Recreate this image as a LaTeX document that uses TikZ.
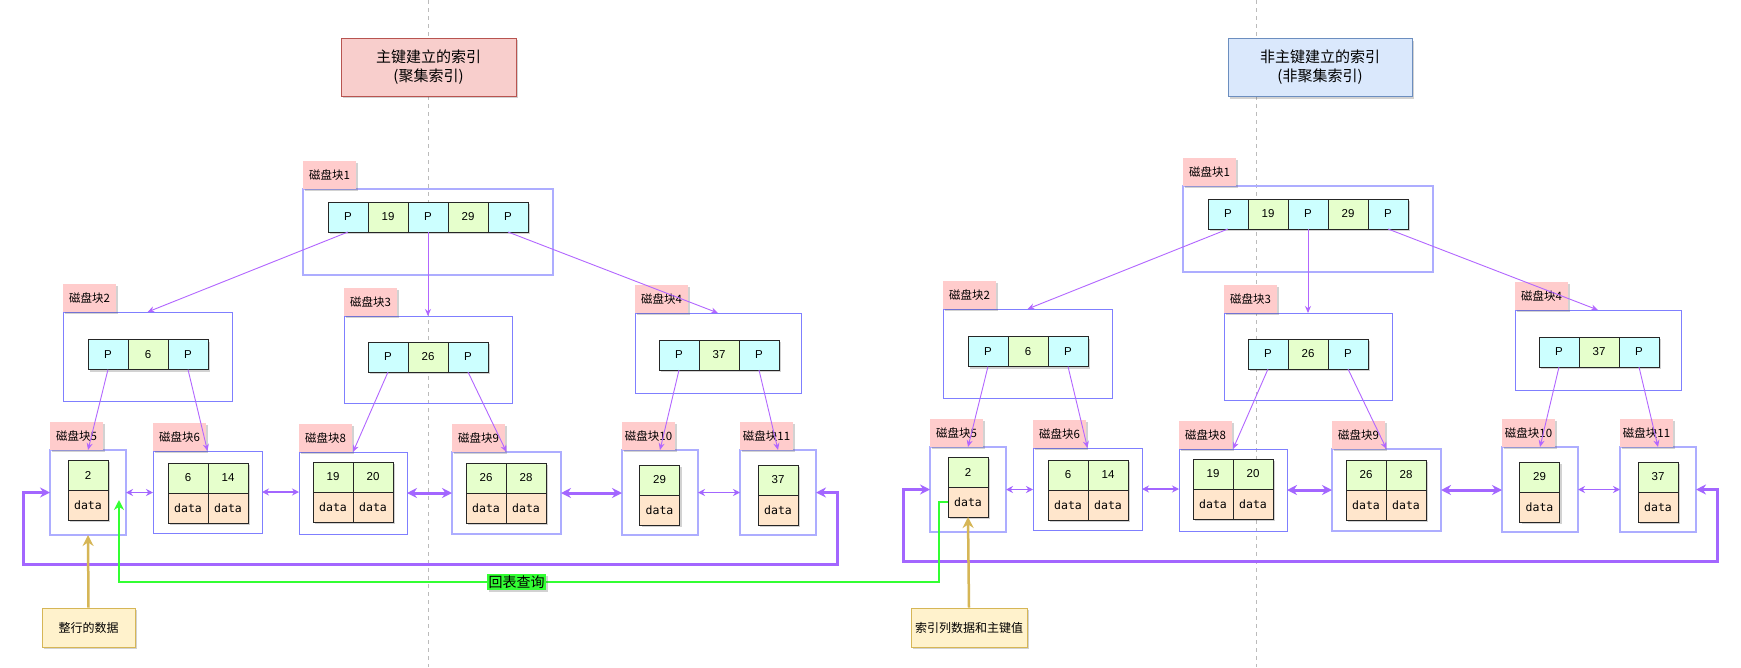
\documentclass[tikz,border=0pt]{standalone}
\usepackage{fontspec}
\setmainfont{Liberation Sans}
\newfontfamily\cjk{Noto Sans CJK SC}
\newfontfamily\monof{DejaVu Sans Mono}
\usetikzlibrary{arrows.meta,shadows,calc}
\definecolor{pcol}{HTML}{CCFFFF}
\definecolor{ncol}{HTML}{E6FFCC}
\definecolor{dcol}{HTML}{FFE6CC}
\definecolor{lblcol}{HTML}{FFCCCC}
\definecolor{contA}{HTML}{7F7FFF}
\definecolor{contB}{HTML}{ADADFF}
\definecolor{edgecol}{HTML}{B266FF}
\definecolor{loopcol}{HTML}{A366FF}
\definecolor{grn}{HTML}{33FF33}
\definecolor{gold}{HTML}{D6B656}
\definecolor{goldfill}{HTML}{FFF2CC}
\definecolor{redfill}{HTML}{F8CECC}
\definecolor{reddraw}{HTML}{B85450}
\definecolor{bluefill}{HTML}{DAE8FC}
\definecolor{bluedraw}{HTML}{6C8EBF}
\definecolor{dashcol}{HTML}{BBBBBB}
\tikzset{
  shd/.style={drop shadow={shadow xshift=2pt,shadow yshift=-2pt,opacity=0.25,fill=black!70}},
  cellbase/.style={draw=black!85,line width=1pt,minimum width=40pt,minimum height=30pt,inner sep=0pt,outer sep=0pt,font=\fontsize{11.5}{13}\selectfont,shd},
  pcell/.style={cellbase,fill=pcol},
  ncell/.style={cellbase,fill=ncol},
  dcell/.style={cellbase,fill=dcol,font=\monof\fontsize{11.5}{13}\selectfont},
  lbl/.style={fill=lblcol,minimum width=53pt,minimum height=28pt,inner sep=2pt,outer sep=0pt,font=\cjk\fontsize{11.5}{13}\selectfont,shd,anchor=south west},
  contA/.style={draw=contA,line width=0.9pt,inner sep=0pt,outer sep=0pt},
  contB/.style={draw=contB,line width=1.3pt,inner sep=0pt,outer sep=0pt},
  edge/.style={draw=edgecol,line width=0.9pt,-{Stealth[length=7pt,width=6pt]}},
  thinlink/.style={draw=loopcol,line width=1.5pt,{Stealth[length=7pt,width=7pt]}-{Stealth[length=7pt,width=7pt]}},
  thicklink/.style={draw=loopcol,line width=3pt,{Stealth[length=10pt,width=10pt]}-{Stealth[length=10pt,width=10pt]}},
  loopline/.style={draw=loopcol,line width=3pt,{Stealth[length=10pt,width=10pt]}-{Stealth[length=10pt,width=10pt]}},
  title/.style={minimum width=175pt,minimum height=58pt,align=center,font=\cjk\fontsize{15}{19}\selectfont,line width=1pt,shd},
  note/.style={fill=goldfill,draw=gold,line width=1pt,minimum height=39pt,font=\cjk\fontsize{12}{14}\selectfont,shd},
  dashline/.style={draw=dashcol,line width=0.8pt,dash pattern=on 4pt off 4pt},
}
\newcommand{\btree}[1]{%
  % containers
  \node[contB,minimum width=250pt,minimum height=86pt] (#1b1) at (428,232) {};
  \node[contA,minimum width=169pt,minimum height=89pt] (#1b2) at (147.5,356.5) {};
  \node[contA,minimum width=168pt,minimum height=87pt] (#1b3) at (428,359.5) {};
  \node[contA,minimum width=166pt,minimum height=80pt] (#1b4) at (718,353) {};
  \node[contB,minimum width=76pt,minimum height=85pt] (#1c5) at (88,492.5) {};
  \node[contA,minimum width=109pt,minimum height=82pt] (#1c6) at (207.5,492) {};
  \node[contA,minimum width=108pt,minimum height=82pt] (#1c8) at (353,493) {};
  \node[contB,minimum width=109pt,minimum height=82pt] (#1c9) at (506.5,493) {};
  \node[contB,minimum width=76pt,minimum height=85pt] (#1c10) at (660,492.5) {};
  \node[contB,minimum width=76pt,minimum height=85pt] (#1c11) at (778,492.5) {};
  % labels
  \node[lbl] (#1l1) at (#1b1.north west) {磁盘块1};
  \node[lbl] (#1l2) at (#1b2.north west) {磁盘块2};
  \node[lbl] (#1l3) at (#1b3.north west) {磁盘块3};
  \node[lbl] (#1l4) at (#1b4.north west) {磁盘块4};
  \node[lbl] (#1l5) at (#1c5.north west) {磁盘块5};
  \node[lbl] (#1l6) at (#1c6.north west) {磁盘块6};
  \node[lbl] (#1l8) at (#1c8.north west) {磁盘块8};
  \node[lbl] (#1l9) at (#1c9.north west) {磁盘块9};
  \node[lbl] (#1l10) at (#1c10.north west) {磁盘块10};
  \node[lbl] (#1l11) at (#1c11.north west) {磁盘块11};
  % block 1 cells
  \node[pcell] (#1k1) at (348,217) {P};
  \node[ncell] (#1k2) at (388,217) {19};
  \node[pcell] (#1k3) at (428,217) {P};
  \node[ncell] (#1k4) at (468,217) {29};
  \node[pcell] (#1k5) at (508,217) {P};
  % block 2,3,4 cells
  \node[pcell] (#1b2p1) at (108,354.5) {P};
  \node[ncell] (#1b2k) at (148,354.5) {6};
  \node[pcell] (#1b2p2) at (188,354.5) {P};
  \node[pcell] (#1b3p1) at (388,357) {P};
  \node[ncell] (#1b3k) at (428,357) {26};
  \node[pcell] (#1b3p2) at (468,357) {P};
  \node[pcell] (#1b4p1) at (679,355) {P};
  \node[ncell] (#1b4k) at (719,355) {37};
  \node[pcell] (#1b4p2) at (759,355) {P};
  % leaves
  \node[ncell] (#1c5n) at (88,475) {2};
  \node[dcell] (#1c5d) at (88,505) {data};
  \node[ncell] (#1c6n1) at (188,478) {6};
  \node[ncell] (#1c6n2) at (228,478) {14};
  \node[dcell] (#1c6d1) at (188,508) {data};
  \node[dcell] (#1c6d2) at (228,508) {data};
  \node[ncell] (#1c8n1) at (333,477) {19};
  \node[ncell] (#1c8n2) at (373,477) {20};
  \node[dcell] (#1c8d1) at (333,507) {data};
  \node[dcell] (#1c8d2) at (373,507) {data};
  \node[ncell] (#1c9n1) at (486,478) {26};
  \node[ncell] (#1c9n2) at (526,478) {28};
  \node[dcell] (#1c9d1) at (486,508) {data};
  \node[dcell] (#1c9d2) at (526,508) {data};
  \node[ncell] (#1c10n) at (659.5,480) {29};
  \node[dcell] (#1c10d) at (659.5,510) {data};
  \node[ncell] (#1c11n) at (778,480) {37};
  \node[dcell] (#1c11d) at (778,510) {data};
  % tree edges
  \draw[edge] (#1k1.south) -- (#1b2.north);
  \draw[edge] (#1k3.south) -- (#1b3.north);
  \draw[edge] (#1k5.south) -- (#1b4.north);
  \draw[edge] (#1b2p1.south) -- (#1c5.north);
  \draw[edge] (#1b2p2.south) -- (#1c6.north);
  \draw[edge] (#1b3p1.south) -- (#1c8.north);
  \draw[edge] (#1b3p2.south) -- (#1c9.north);
  \draw[edge] (#1b4p1.south) -- (#1c10.north);
  \draw[edge] (#1b4p2.south) -- (#1c11.north);
  % leaf links
  \draw[thinlink] (#1c5.east) -- (#1c5.east -| #1c6.west);
  \draw[thinlink] (#1c6.east) -- (#1c6.east -| #1c8.west);
  \draw[thicklink] (#1c8.east) -- (#1c8.east -| #1c9.west);
  \draw[thicklink] (#1c9.east) -- (#1c9.east -| #1c10.west);
  \draw[thinlink] (#1c10.east) -- (#1c10.east -| #1c11.west);
  % loop
  \coordinate (#1lA) at (23,564);
  \coordinate (#1lB) at (837,564);
  \draw[loopline] (#1c5.west) -| (#1lA) -- (#1lB) |- (#1c11.east);
}
\begin{document}
\begin{tikzpicture}[x=1pt,y=-1pt]
  \useasboundingbox (0,0) rectangle (1741,667);
  \fill[white] (0,0) rectangle (1741,667);
  % dashed separators
  \coordinate (dA1) at (428,0); \coordinate (dA2) at (428,667);
  \coordinate (dB1) at (1256,0); \coordinate (dB2) at (1256,667);
  \draw[dashline] (dA1) -- (dA2);
  \draw[dashline] (dB1) -- (dB2);
  % titles
  \node[title,fill=redfill,draw=reddraw] (tL) at (428.5,67) {主键建立的索引\\(聚集索引)};
  \node[title,fill=bluefill,draw=bluedraw,minimum width=184pt] (tR) at (1320,67.5) {非主键建立的索引\\(非聚集索引)};
  % trees
  \btree{L}
  \begin{scope}[shift={(880,-3)}]
    \btree{R}
  \end{scope}
  % notes
  \node[note,minimum width=93pt] (nL) at (88.5,627.5) {整行的数据};
  \node[note,minimum width=116pt] (nR) at (969,627.5) {索引列数据和主键值};
  \draw[draw=gold,line width=2.5pt,-{Stealth[length=11pt,width=11pt]}] (nL.north) -- (Lc5.south);
  \draw[draw=gold,line width=2.5pt,-{Stealth[length=11pt,width=11pt]}] (nR.north) -- (Rc5d.south);
  % back-to-table query
  \coordinate (g1) at (939,582);
  \coordinate (g2) at (119,582);
  \coordinate (g3) at (119,500);
  \draw[draw=grn,line width=2.5pt,-{Stealth[length=10pt,width=10pt]}] (Rc5d.west) -| (g1) -- node[pos=0.515,fill=grn,inner sep=1.5pt,font=\cjk\fontsize{14}{16}\selectfont,text=black,shd] (gl) {回表查询} (g2) -- (g3);
\end{tikzpicture}
\end{document}
